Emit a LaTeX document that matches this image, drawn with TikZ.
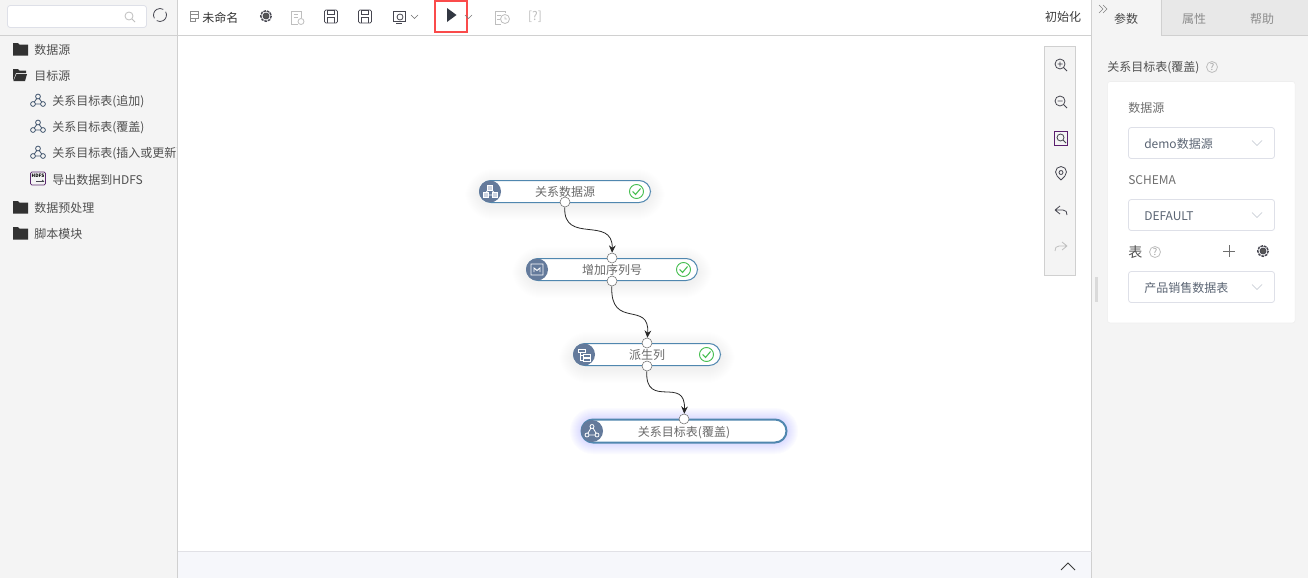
\documentclass[tikz,border=0pt]{standalone}
\usepackage{fontspec}
\setmainfont{Noto Sans CJK SC}
\usetikzlibrary{arrows.meta}
\tikzset{
	pane/.style={draw=none,fill={rgb, 255:red, 244; green, 244; blue, 244 }},
	rulefine/.style={color={rgb, 255:red, 208; green, 208; blue, 208 },line width=0.75pt},
	label/.style={anchor=west,inner sep=0.75pt,xshift=-0.75pt,yshift=-0.75pt,font=\fontsize{9}{10}\selectfont,text={rgb, 255:red, 80; green, 80; blue, 80 }},
	flowlabel/.style={inner sep=0.75pt,yshift=-0.75pt,font=\fontsize{9}{10}\selectfont,text={rgb, 255:red, 105; green, 105; blue, 105 }},
	flownode/.style={draw={rgb, 255:red, 80; green, 135; blue, 175 },fill=white,rounded corners=8.6pt,line width=0.75pt},
	iconcircle/.style={circle,fill={rgb, 255:red, 100; green, 122; blue, 155 },minimum size=16.5pt,inner sep=0pt},
	portnode/.style={circle,draw={rgb, 255:red, 110; green, 110; blue, 110 },fill=white,minimum size=7.5pt,inner sep=0pt,line width=0.4pt},
	checkmark/.style={circle,draw={rgb, 255:red, 70; green, 190; blue, 80 },minimum size=10.5pt,inner sep=0pt,line width=0.7pt},
	flowline/.style={color={rgb, 255:red, 40; green, 40; blue, 40 },line width=0.6pt,-{Stealth[length=5.5pt,width=5pt]}},
	selectbox/.style={draw={rgb, 255:red, 222; green, 224; blue, 232 },fill=white,rounded corners=2pt,line width=0.6pt},
	iconline/.style={color={rgb, 255:red, 70; green, 70; blue, 80 },line width=0.6pt},
	iconpale/.style={color={rgb, 255:red, 190; green, 190; blue, 190 },line width=0.6pt},
	chevron/.style={color={rgb, 255:red, 190; green, 195; blue, 205 },line width=0.5pt},
	helpmark/.style={inner sep=0pt,font=\fontsize{7}{8}\selectfont,text={rgb, 255:red, 160; green, 160; blue, 160 }},
}
\newcommand{\foldericon}[1]{\fill[fill={rgb, 255:red, 50; green, 50; blue, 50 }] (#1) ++(-7,-6) -- ++(5,0) -- ++(1.5,1.5) -- ++(8.5,0) -- ++(0,11) -- ++(-15,0) -- cycle;}
\newcommand{\treeicon}[1]{\draw[iconline,color={rgb, 255:red, 65; green, 85; blue, 110 }] (#1) ++(0,-4.5) circle (2.4) (#1) ++(-5,3) circle (2.4) (#1) ++(5,3) circle (2.4) (#1) ++(-1.2,-2.5) -- ++(-2.6,3.6) (#1) ++(1.2,-2.5) -- ++(2.6,3.6) (#1) ++(-2.6,3) -- ++(5.2,0);}
\newcommand{\checkicon}[2]{\node[checkmark] (#2) at (#1) {};\draw[color={rgb, 255:red, 70; green, 190; blue, 80 },line width=0.8pt] (#1) ++(-4,0) -- ++(3,3) -- ++(5,-6);}
\newcommand{\chevdown}[1]{\draw[chevron] (#1) ++(-5,-2.5) -- ++(5,5) -- ++(5,-5);}
\newcommand{\gearicon}[1]{\draw[iconline,fill={rgb, 255:red, 85; green, 85; blue, 85 }] (#1) circle (3);\draw[iconline,line width=1.1pt,dash pattern=on 2pt off 0.7pt] (#1) circle (5.3);}
\begin{document}
\begin{tikzpicture}[x=0.75pt,y=0.75pt,yscale=-1,xscale=1]
	\useasboundingbox (0,0) rectangle (1308,578);
	\fill[white] (0,0) rectangle (1308,578);

	%Panes
	\fill[pane] (0,0) rectangle (178,578);
	\fill[pane] (1092,0) rectangle (1308,578);
	\fill[fill={rgb, 255:red, 232; green, 232; blue, 232 }] (1161,0) rectangle (1308,35);
	\fill[fill={rgb, 255:red, 246; green, 247; blue, 251 }] (178,552) rectangle (1092,578);
	\fill[fill={rgb, 255:red, 218; green, 218; blue, 218 }] (1095,277) rectangle (1098,302);
	%Straight Lines
	\draw[rulefine] (0,35.5) -- (1092,35.5);
	\draw[rulefine] (1091.5,0) -- (1091.5,578);
	\draw[rulefine] (1161,0) -- (1161,35.5) -- (1308,35.5);
	\draw[color={rgb, 255:red, 225; green, 225; blue, 230 },line width=0.6pt] (178,551.5) -- (1092,551.5);

	%Search
	\draw[selectbox,fill=white] (7.5,5.5) rectangle (146.5,27.5);
	\draw[iconpale] (129,16) circle (4) (132,19) -- (135,22);
	\draw[iconline] (160,15) ++(-30:6.5) arc (-30:120:6.5);
	\draw[iconline] (160,15) ++(150:6.5) arc (150:300:6.5);

	%Left tree
	\foldericon{20,49}
	\fill[fill={rgb, 255:red, 50; green, 50; blue, 50 }] (13,81) -- (13,69) -- (18,69) -- (19.5,70.5) -- (26,70.5) -- (26,73) -- (16,73) -- cycle;
	\fill[fill={rgb, 255:red, 50; green, 50; blue, 50 }] (13.5,81) -- (16.5,74) -- (27,74) -- (25,81) -- cycle;
	\foldericon{20,207}
	\foldericon{20,233}
	\node[label] (srcdata) at (34,49) {数据源};
	\node[label] (srctarget) at (34,75) {目标源};
	\treeicon{38,101}
	\node[label] (tbappend) at (52,101) {关系目标表(追加)};
	\treeicon{38,127}
	\node[label] (tbcover) at (52,127) {关系目标表(覆盖)};
	\treeicon{38,153}
	\begin{scope}
		\clip (0,140) rectangle (177,166);
		\node[label] (tbupsert) at (52,153) {关系目标表(插入或更新)};
	\end{scope}
	\draw[rulefine] (177.5,0) -- (177.5,578);
	\draw[iconline,rounded corners=1pt,color={rgb, 255:red, 90; green, 40; blue, 110 }] (30.5,172) rectangle (45.5,185);
	\node[inner sep=0pt,font=\fontsize{3.5}{4}\selectfont] (hdfsicon) at (38,176) {\textbf{HDFS}};
	\draw[iconline,line width=0.5pt] (36,181.5) -- (44,181.5) (42,180) -- (44,181.5);
	\node[label] (tbhdfs) at (52,179) {导出数据到HDFS};
	\node[label] (srcprep) at (34,207) {数据预处理};
	\node[label] (srcscript) at (34,233) {脚本模块};

	%Toolbar
	\draw[iconpale,color={rgb, 255:red, 140; green, 140; blue, 140 }] (190,11) rectangle (198,14.5) (190,14.5) rectangle (198,18) (190,18) rectangle (195,21);
	\node[label,text={rgb, 255:red, 50; green, 50; blue, 50 }] (flowname) at (202,17) {未命名};
	\gearicon{266,16}
	\draw[iconpale] (301,18) -- (301,11) -- (291,11) -- (291,24) -- (298,24) (293.5,14.5) -- (298,14.5) (293.5,17.5) -- (298,17.5);
	\draw[iconpale] (301,21.5) circle (3);
	\foreach \cx in {331,365} {
		\draw[iconline,rounded corners=1pt] (\cx-6.5,10) rectangle (\cx+6.5,23);
		\draw[iconline] (\cx-3.5,10) rectangle (\cx+3.5,14) (\cx-3.5,23) -- (\cx-3.5,17) -- (\cx+3.5,17) -- (\cx+3.5,23);
	}
	\draw[iconline] (393,11) rectangle (405,21) (396,23) -- (402,23);
	\draw[iconline] (400,17) circle (3);
	\draw[chevron,color={rgb, 255:red, 110; green, 110; blue, 110 }] (411,15) -- (414.5,18.5) -- (418,15);
	\draw[color={rgb, 255:red, 250; green, 75; blue, 75 },line width=1.9pt] (435,1) rectangle (467,32);
	\fill[fill={rgb, 255:red, 50; green, 55; blue, 65 }] (447,8) -- (456.5,15) -- (447,22) -- cycle;
	\draw[chevron,color={rgb, 255:red, 120; green, 120; blue, 120 }] (465,15) -- (468.5,18.5) -- (472,15);
	\draw[iconpale] (505,13) -- (505,11) -- (495,11) -- (495,24) -- (501,24) (497,15) -- (501,15) (497,19) -- (500,19);
	\draw[iconpale] (505,19) circle (4.5) (505,16.5) -- (505,19) -- (507,19);
	\node[inner sep=0.75pt,font=\fontsize{9}{10}\selectfont,text={rgb, 255:red, 190; green, 190; blue, 190 }] (helphint) at (535,17) {[?]};
	\node[flowlabel,text={rgb, 255:red, 60; green, 60; blue, 60 }] (initbtn) at (1063,15.5) {初始化};

	%Canvas tools
	\draw[pane,draw={rgb, 255:red, 208; green, 208; blue, 208 },line width=0.75pt] (1044.5,46.5) rectangle (1075.5,275.5);
	\draw[iconline] (1060,64) circle (5) (1064,68) -- (1067,71) (1057.5,64) -- (1062.5,64) (1060,61.5) -- (1060,66.5);
	\draw[iconline] (1060,101) circle (5) (1064,105) -- (1067,108) (1057.5,101) -- (1062.5,101);
	\draw[iconline,color={rgb, 255:red, 90; green, 30; blue, 110 }] (1054.5,131.5) rectangle (1067.5,145);
	\draw[iconline] (1060.5,137.5) circle (3.5) (1063,140) -- (1066,143);
	\draw[iconline] (1061,180) .. controls (1058,177) and (1055.5,175) .. (1055.5,172) arc (180:360:5.5) .. controls (1066.5,175) and (1064,177) .. (1061,180);
	\draw[iconline] (1061,172.5) circle (2);
	\draw[iconline] (1055,210) -- (1060,206) (1055,210) -- (1060,214) (1055,210) -- (1063,210) .. controls (1066,210) and (1067,212) .. (1067,215);
	\draw[iconpale] (1067,246) -- (1062,242) (1067,246) -- (1062,250) (1067,246) -- (1059,246) .. controls (1056,246) and (1055,248) .. (1055,251);
	\draw[color={rgb, 255:red, 60; green, 60; blue, 60 },line width=0.6pt] (1061,570) -- (1068,563) -- (1075,570);

	%Right panel
	\draw[chevron,color={rgb, 255:red, 130; green, 130; blue, 130 }] (1099,5) -- (1103,9) -- (1099,13) (1103,5) -- (1107,9) -- (1103,13);
	\node[flowlabel,text={rgb, 255:red, 70; green, 70; blue, 70 }] (tabparam) at (1126,18) {参数};
	\node[flowlabel,text={rgb, 255:red, 140; green, 140; blue, 140 }] (tabattr) at (1194,18) {属性};
	\node[flowlabel,text={rgb, 255:red, 140; green, 140; blue, 140 }] (tabhelp) at (1262,18) {帮助};
	\node[label] (paneltitle) at (1107,67) {关系目标表(覆盖)};
	\draw[iconpale] (1212,67) circle (5.5);
	\node[helpmark] (panelhelp) at (1212,67) {?};
	\draw[draw={rgb, 255:red, 238; green, 238; blue, 238 },fill=white,rounded corners=2pt] (1107.5,81.5) rectangle (1295,323);
	\node[label,text={rgb, 255:red, 110; green, 110; blue, 110 }] (lblsource) at (1128,107) {数据源};
	\draw[selectbox] (1128.5,127.5) rectangle (1274.5,158.5);
	\node[label,text={rgb, 255:red, 90; green, 100; blue, 115 }] (valsource) at (1144,143) {demo数据源};
	\chevdown{1257,143}
	\node[label,text={rgb, 255:red, 110; green, 110; blue, 110 }] (lblschema) at (1128,179) {SCHEMA};
	\draw[selectbox] (1128.5,199.5) rectangle (1274.5,230.5);
	\node[label,text={rgb, 255:red, 90; green, 100; blue, 115 }] (valschema) at (1144,215) {DEFAULT};
	\chevdown{1257,215}
	\node[label,font=\fontsize{10.5}{11}\selectfont] (lbltable) at (1128,251) {表};
	\draw[iconpale] (1155,252) circle (5.5);
	\node[helpmark] (tablehelp) at (1155,252) {?};
	\draw[iconline,color={rgb, 255:red, 110; green, 110; blue, 110 }] (1229,245) -- (1229,257) (1223,251) -- (1235,251);
	\gearicon{1263,251}
	\draw[selectbox] (1128.5,271.5) rectangle (1274.5,302.5);
	\node[label,text={rgb, 255:red, 90; green, 100; blue, 115 }] (valtable) at (1144,287) {产品销售数据表};
	\chevdown{1257,287}

	%Soft shadows of the flow nodes
	\foreach \nx/\ny/\nw in {479/180/651,526/258/698,573/343/721} {
		\foreach \sp in {1,...,14} {
			\fill[black,opacity=0.003,rounded corners=11pt+\sp*0.75pt] (\nx-\sp,\ny-\sp+3) rectangle (\nw+\sp,\ny+23+\sp+3);
		}
	}
	\foreach \sp in {1,...,11} {
		\fill[fill={rgb, 255:red, 125; green, 125; blue, 255 },opacity=0.025,rounded corners=9pt+\sp*0.75pt] (581-\sp,419-\sp) rectangle (787+\sp,443+\sp);
	}

	%Flow nodes
	\draw[flownode] (479.5,180.5) rectangle (650.5,202.5);
	\node[iconcircle] (srcicon) at (490,191.5) {};
	\node[flowlabel] (srctext) at (565,191) {关系数据源};
	\checkicon{636.5,191.5}{srccheck}
	\draw[flownode] (526.5,258.5) rectangle (697.5,280.5);
	\node[iconcircle] (seqicon) at (537,269.5) {};
	\node[flowlabel] (seqtext) at (612,269) {增加序列号};
	\checkicon{683.5,269.5}{seqcheck}
	\draw[flownode] (573.5,343.5) rectangle (720.5,365.5);
	\node[iconcircle] (deriveicon) at (584,354.5) {};
	\node[flowlabel] (derivetext) at (647,354) {派生列};
	\checkicon{706.5,354.5}{derivecheck}
	\draw[flownode,line width=1.5pt] (581.5,419.5) rectangle (786.5,442.5);
	\node[iconcircle] (desticon) at (592,431) {};
	\node[flowlabel] (desttext) at (684,431.5) {关系目标表(覆盖)};

	%Node icons
	\draw[white,line width=0.6pt,fill={rgb, 255:red, 205; green, 212; blue, 225 }] (487.5,185) rectangle (492.5,190) (483,192.5) rectangle (488,197.5) (492,192.5) rectangle (497,197.5);
	\draw[white,line width=0.6pt] (488,190) -- (486,192.5) (492,190) -- (494,192.5) (488,195) -- (492,195);
	\draw[white,line width=0.7pt] (531,264) rectangle (543,275) (534,272) -- (534,268) -- (537,270.5) -- (540,268) -- (540,272);
	\draw[white,line width=0.7pt] (578,349) rectangle (585,352.5) (583,354) rectangle (590,357) (583,358.5) rectangle (590,361.5) (580,352.5) -- (580,360) -- (583,360) (580,355.5) -- (583,355.5);
	\draw[white,line width=0.6pt] (592,426.5) circle (2) (587,435) circle (2) (597,435) circle (2) (591,428) -- (588,433) (593,428) -- (596,433) (589,435) -- (595,435);

	%Ports
	\node[portnode] (srcout) at (565,202) {};
	\node[portnode] (seqin) at (612,258) {};
	\node[portnode] (seqout) at (612,281) {};
	\node[portnode] (derivein) at (647,343) {};
	\node[portnode] (deriveout) at (647,366) {};
	\node[portnode] (destin) at (684,419) {};

	%Curves
	\draw[flowline] (srcout) .. controls (563,245) and (613,215) .. (seqin);
	\draw[flowline] (seqout) .. controls (610,330) and (650,300) .. (derivein);
	\draw[flowline] (deriveout) .. controls (645,410) and (686,375) .. (destin);
\end{tikzpicture}
\end{document}
